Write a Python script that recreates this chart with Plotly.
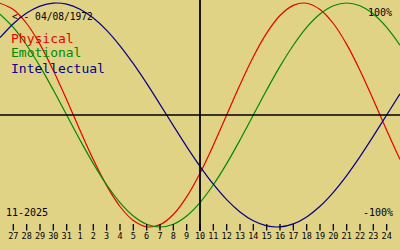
import plotly.graph_objects as go

# Day index 0 = Oct 27, 2025; index 14 = Nov 10 (today marker)
day_index = list(range(-1, 30))
tick_index = list(range(0, 29))
tick_labels = ["27", "28", "29", "30", "31", "1", "2", "3", "4", "5", "6", "7", "8", "9",
               "10", "11", "12", "13", "14", "15", "16", "17", "18", "19", "20", "21", "22",
               "23", "24"]
today_index = 14

physical = [0.998, 0.942, 0.817, 0.631, 0.398, 0.136, -0.136, -0.398, -0.631, -0.817,
            -0.942, -0.998, -0.979, -0.888, -0.731, -0.520, -0.270, 0.0, 0.270, 0.520,
            0.731, 0.888, 0.979, 0.998, 0.942, 0.817, 0.631, 0.398, 0.136, -0.136, -0.398]
emotional = [0.901, 0.782, 0.623, 0.434, 0.223, 0.0, -0.223, -0.434, -0.623, -0.782,
             -0.901, -0.975, -1.0, -0.975, -0.901, -0.782, -0.623, -0.434, -0.223, 0.0,
             0.223, 0.434, 0.623, 0.782, 0.901, 0.975, 1.0, 0.975, 0.901, 0.782, 0.623]
intellectual = [0.690, 0.815, 0.910, 0.972, 0.999, 0.990, 0.945, 0.866, 0.756, 0.618,
                0.458, 0.282, 0.095, -0.095, -0.282, -0.458, -0.618, -0.756, -0.866, -0.945,
                -0.990, -0.999, -0.972, -0.910, -0.815, -0.690, -0.541, -0.372, -0.189, 0.0, 0.189]

series_names = ["Physical", "Emotional", "Intellectual"]
series_colors = ["#e60000", "#008a00", "#000088"]
birth_label = "<-- 04/08/1972"
month_label = "11-2025"

BG = "#e1d386"
MONO = "DejaVu Sans Mono, Liberation Mono, monospace"

# pixel helpers for the vertical scale: zero at y=115 px, 112 px per 100%
ZERO_PX, UNIT_PX, H = 115, 112, 250


def px_to_val(py):
    return (ZERO_PX - py) / UNIT_PX


fig = go.Figure()
for name, vals, col in zip(series_names, [physical, emotional, intellectual], series_colors):
    fig.add_trace(go.Scatter(x=day_index, y=vals, mode="lines", name=name,
                             line=dict(color=col, width=1.2, shape="spline"),
                             hoverinfo="skip"))

# day tick marks
tx, ty = [], []
for t in tick_index:
    tx += [t, t, None]
    ty += [px_to_val(224), px_to_val(230.5), None]
fig.add_trace(go.Scatter(x=tx, y=ty, mode="lines", line=dict(color="black", width=1.3),
                         hoverinfo="skip", showlegend=False))

# zero line and today line
fig.add_shape(type="line", xref="paper", yref="y", x0=0, x1=1, y0=0, y1=0,
              line=dict(color="black", width=1.7))
fig.add_shape(type="line", xref="x", yref="paper", x0=today_index, x1=today_index,
              y0=1 - 231 / H, y1=1, line=dict(color="black", width=1.8))

annotations = [
    dict(text=birth_label, x=10 / 400, y=1 - 16 / H, xanchor="left", yanchor="middle",
         font=dict(family=MONO, size=9.6, color="black")),
    dict(text=month_label, x=4 / 400, y=1 - 212 / H, xanchor="left", yanchor="middle",
         font=dict(family=MONO, size=10, color="black")),
    dict(text="100%", x=394 / 400, y=1 - 12 / H, xanchor="right", yanchor="middle",
         font=dict(family=MONO, size=10, color="black")),
    dict(text="-100%", x=395 / 400, y=1 - 212 / H, xanchor="right", yanchor="middle",
         font=dict(family=MONO, size=10, color="black")),
]
for i, (name, col) in enumerate(zip(series_names, series_colors)):
    annotations.append(dict(text=name, x=9 / 400, y=1 - (38 + 15 * i) / H,
                            xanchor="left", yanchor="middle",
                            font=dict(family=MONO, size=13, color=col)))
for a in annotations:
    a.update(xref="paper", yref="paper", showarrow=False)

fig.update_layout(
    width=400, height=250, margin=dict(l=0, r=0, t=0, b=0),
    paper_bgcolor=BG, plot_bgcolor=BG, showlegend=False,
    annotations=annotations,
    xaxis=dict(range=[-1, 29], tickmode="array", tickvals=tick_index, ticktext=tick_labels,
               ticks="", showgrid=False, zeroline=False, showline=False,
               anchor="free", position=20.5 / H, fixedrange=True,
               tickfont=dict(family=MONO, size=8.5, color="black")),
    yaxis=dict(range=[px_to_val(H), px_to_val(0)], visible=False, fixedrange=True),
)

fig.write_html("out.html", config={"displayModeBar": False})
